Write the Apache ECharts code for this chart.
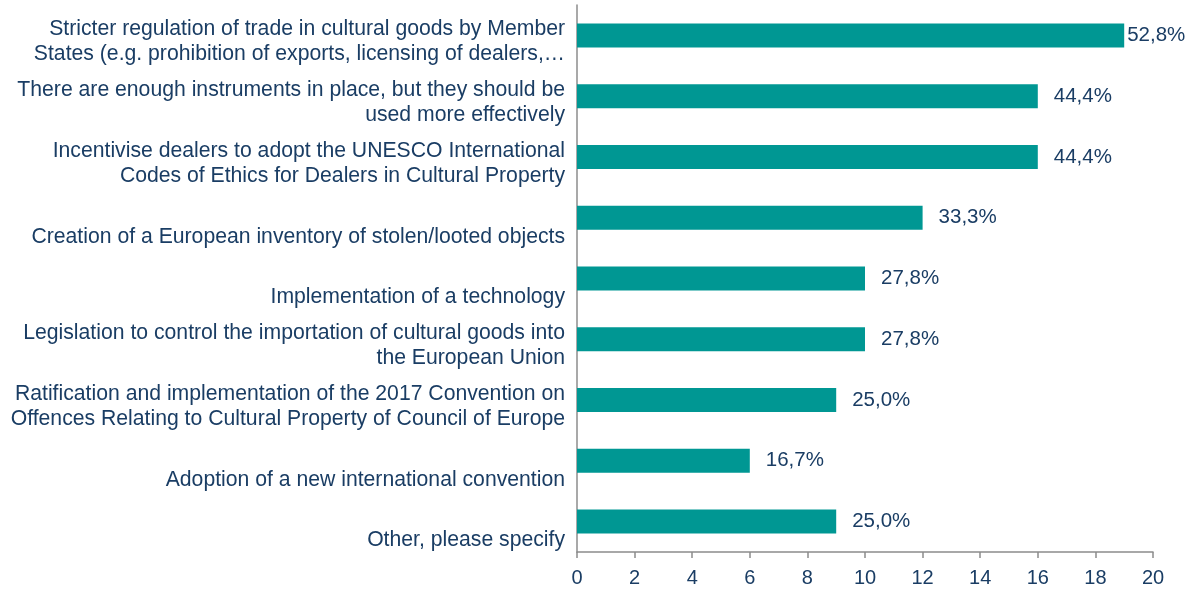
<!DOCTYPE html>
<html><head><meta charset="utf-8">
<script src="https://cdn.jsdelivr.net/npm/echarts@6/dist/echarts.min.js"></script>
<style>html,body{margin:0;padding:0;background:#fff}#c{width:1192px;height:589px}</style>
</head><body><div id="c"></div>
<script>
const categories = [
  "Stricter regulation of trade in cultural goods by Member\nStates (e.g. prohibition of exports, licensing of dealers,…",
  "There are enough instruments in place, but they should be\nused more effectively",
  "Incentivise dealers to adopt the UNESCO International\nCodes of Ethics for Dealers in Cultural Property",
  "Creation of a European inventory of stolen/looted objects",
  "Implementation of a technology",
  "Legislation to control the importation of cultural goods into\nthe European Union",
  "Ratification and implementation of the 2017 Convention on\nOffences Relating to Cultural Property of Council of Europe",
  "Adoption of a new international convention",
  "Other, please specify"
];
const counts = [19, 16, 16, 12, 10, 10, 9, 6, 9];
const percentLabels = ["52,8%", "44,4%", "44,4%", "33,3%", "27,8%", "27,8%", "25,0%", "16,7%", "25,0%"];
const xTicks = [0, 2, 4, 6, 8, 10, 12, 14, 16, 18, 20];

const textColor = '#1a3d64';
const font = 'Liberation Sans, Arial, sans-serif';

const chart = echarts.init(document.getElementById('c'));
const data = counts.map((v, i) => i === 0
  ? { value: v, label: { distance: 3 } }
  : v);

chart.setOption({
  animation: false,
  grid: { left: 577, right: 39, top: 5, bottom: 37, containLabel: false },
  xAxis: {
    type: 'value', min: xTicks[0], max: xTicks[xTicks.length - 1], interval: 2,
    splitLine: { show: false },
    axisLine: { show: true, lineStyle: { color: '#8c8c8c', width: 1.5 } },
    axisTick: { show: true, length: 6, lineStyle: { color: '#8c8c8c', width: 1.5 } },
    axisLabel: { color: textColor, fontSize: 20, fontFamily: font, margin: 16 }
  },
  yAxis: {
    type: 'category', data: categories, inverse: true,
    axisLine: { show: true, lineStyle: { color: '#8c8c8c', width: 1.5 } },
    axisTick: { show: false },
    axisLabel: {
      color: textColor, fontSize: 21.2, fontFamily: font, margin: 12,
      align: 'right', lineHeight: 25,
      interval: 0, showMinLabel: true, showMaxLabel: true, hideOverlap: false,
      formatter: v => {
        const lines = v.split('\n');
        const block = lines.length < 2 ? ['', lines[0]] : lines;
        return '{s|}\n' + block.map(l => '{t|' + l + '}').join('\n');
      },
      rich: {
        s: { lineHeight: 13, fontSize: 1 },
        t: { fontSize: 21.2, lineHeight: 25, color: textColor, fontFamily: font, align: 'right' }
      }
    }
  },
  series: [{
    type: 'bar', data: data, barWidth: 24,
    itemStyle: { color: '#009793' },
    label: {
      show: true, position: 'right', distance: 16,
      color: textColor, fontSize: 20.5, fontFamily: font,
      formatter: p => percentLabels[p.dataIndex]
    }
  }]
});
</script></body></html>
